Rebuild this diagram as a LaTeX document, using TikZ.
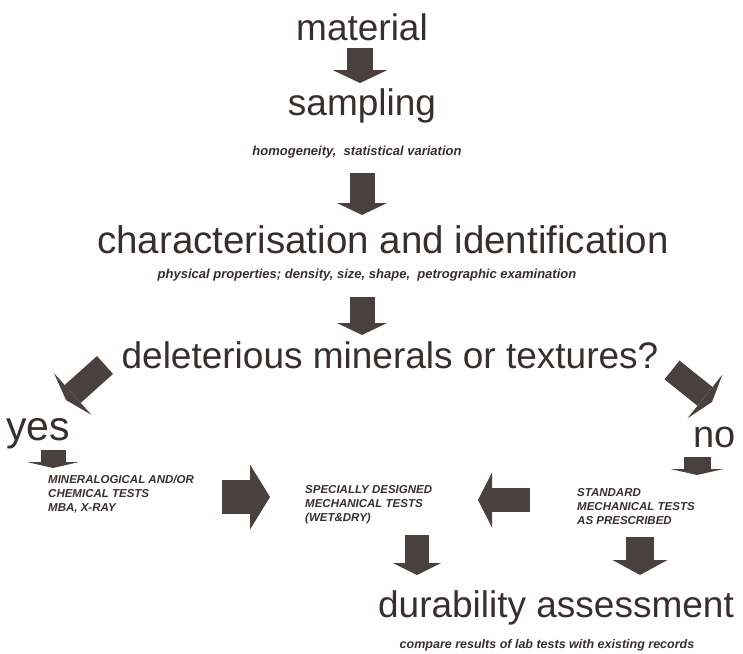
\documentclass[tikz,border=0pt]{standalone}
\usepackage{fontspec}
\setmainfont{Liberation Sans}
\usetikzlibrary{arrows.meta}
\definecolor{ink}{RGB}{55,47,45}
\definecolor{blockgray}{RGB}{74,64,62}

\begin{document}
\begin{tikzpicture}[x=1pt, y=-1pt,
    big/.style={font=\fontsize{37}{40}\selectfont, text=ink, inner sep=0pt, anchor=base},
    note/.style={font=\fontsize{12.5}{14}\selectfont\bfseries\itshape, text=ink, inner sep=0pt, anchor=base},
    caps/.style={font=\fontsize{11.5}{14}\selectfont\bfseries\itshape, text=ink, inner sep=0pt, align=left, anchor=north west},
    blk/.style n args={3}{draw=blockgray, line width=#1, -{Triangle[width=#2, length=#3, line width=0pt]}}]
    \useasboundingbox (0,0) rectangle (743,653);
    % main column
    \node[big] (matl) at (362,40) {material};
    \node[big] (samp) at (362,115) {sampling};
    \node[note, font=\fontsize{13}{14}\selectfont\bfseries\itshape] (homog) at (357,155) {homogeneity,\ \ statistical variation};
    \node[big, font=\fontsize{38.5}{40}\selectfont] (char) at (383,253) {characterisation and identification};
    \node[note, font=\fontsize{13}{14}\selectfont\bfseries\itshape] (phys) at (367,278) {physical properties; density, size, shape,\ \ petrographic examination};
    \node[big] (dele) at (390,368) {deleterious minerals or textures?};
    % the two branches
    \node[big, anchor=base west, font=\fontsize{41}{44}\selectfont] (yes) at (6,440) {yes};
    \node[big, anchor=base east, font=\fontsize{38}{40}\selectfont] (no) at (736,447) {no};
    \node[caps] (minl) at (48,475) {MINERALOGICAL AND/OR\\CHEMICAL TESTS\\MBA, X-RAY};
    \node[caps] (spec) at (305,485) {SPECIALLY DESIGNED\\MECHANICAL TESTS\\(WET\&DRY)};
    \node[caps] (stnd) at (577,488) {STANDARD\\MECHANICAL TESTS\\AS PRESCRIBED};
    \node[big] (dura) at (556,617) {durability assessment};
    \node[note] (comp) at (547,648) {compare results of lab tests with existing records};
    % block arrows
    \draw[blk={26pt}{55pt}{13pt}] ([shift={(-2,8)}]matl.base) -- ([shift={(-2,-32)}]samp.base);
    \draw[blk={25pt}{50pt}{12pt}] ([shift={(5,18)}]homog.base) -- ([shift={(-21,-38)}]char.base);
    \draw[blk={25pt}{50pt}{12pt}] ([shift={(-5,19)}]phys.base) -- ([shift={(-28,-33)}]dele.base);
    \draw[blk={24pt}{56pt}{9pt}] ([shift={(-285,-3)}]dele.base) -- ([shift={(60,-40)}]yes.base west);
    \draw[blk={24pt}{56pt}{9pt}] ([shift={(282,2)}]dele.base) -- ([shift={(-24,-45)}]no.base east);
    \draw[blk={25pt}{52pt}{6pt}] ([shift={(47,10)}]yes.base west) -- ([shift={(5,-7)}]minl.north west);
    \draw[blk={27pt}{53pt}{6pt}] ([shift={(-39,10)}]no.base east) -- ([shift={(120,-13)}]stnd.north west);
    \draw[blk={34pt}{65pt}{20pt}] ([shift={(174,22)}]minl.north west) -- ([shift={(-35,12)}]spec.north west);
    \draw[blk={24pt}{55pt}{14pt}] ([shift={(-47,12)}]stnd.north west) -- ([shift={(173,15)}]spec.north west);
    \draw[blk={24pt}{48pt}{12pt}] ([shift={(112,50)}]spec.north west) -- ([shift={(-139,-42)}]dura.base);
    \draw[blk={28pt}{55pt}{15pt}] ([shift={(63,49)}]stnd.north west) -- ([shift={(84,-42)}]dura.base);
\end{tikzpicture}
\end{document}
